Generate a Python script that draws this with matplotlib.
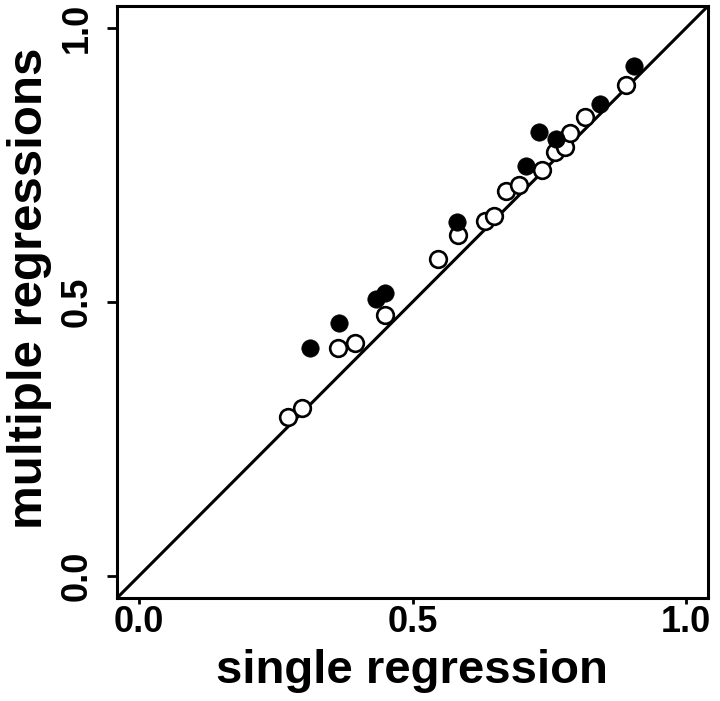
import matplotlib
matplotlib.use("Agg")
import matplotlib.pyplot as plt

# Filled points (single regression, multiple regressions)
filled_x = [0.313, 0.365, 0.433, 0.449, 0.582, 0.707, 0.731, 0.762, 0.842, 0.904]
filled_y = [0.416, 0.461, 0.506, 0.517, 0.646, 0.749, 0.810, 0.797, 0.861, 0.931]

# Open points
open_x = [0.273, 0.298, 0.364, 0.395, 0.449, 0.547, 0.584, 0.633, 0.649, 0.671,
          0.695, 0.736, 0.760, 0.778, 0.787, 0.816, 0.891]
open_y = [0.291, 0.307, 0.416, 0.425, 0.476, 0.579, 0.622, 0.647, 0.656, 0.702,
          0.714, 0.741, 0.774, 0.783, 0.808, 0.837, 0.895]

ticks = [0.0, 0.5, 1.0]
tick_labels = ["0.0", "0.5", "1.0"]
xlabel = "single regression"
ylabel = "multiple regressions"

plt.rcParams['font.family'] = ['Liberation Sans', 'DejaVu Sans']
plt.rcParams['font.weight'] = 'bold'

W, H = 720, 701
fig = plt.figure(figsize=(W / 100, H / 100), dpi=100)
ax = fig.add_axes([117 / W, 1 - 598 / H, (708 - 117) / W, (598 - 6) / H])

lim = (-0.04, 1.04)
ax.set_xlim(lim)
ax.set_ylim(lim)

ax.plot([lim[0], lim[1]], [lim[0], lim[1]], color='black', lw=2.2, zorder=1)

ax.plot(open_x, open_y, linestyle='none', marker='o', ms=12,
        mfc='white', mec='black', mew=1.9, zorder=2)
ax.plot(filled_x, filled_y, linestyle='none', marker='o', ms=12.5,
        mfc='black', mec='black', mew=0.5, zorder=3)

for s in ax.spines.values():
    s.set_linewidth(2.2)

ax.set_xticks(ticks)
ax.set_xticklabels(tick_labels, fontsize=26, fontweight='bold')
ax.set_yticks(ticks)
ax.set_yticklabels(tick_labels, fontsize=26, fontweight='bold',
                   rotation=90, va='center')
ax.tick_params(axis='x', direction='out', length=4, width=2, pad=1)
ax.tick_params(axis='y', direction='out', length=7, width=2, pad=9)

fig.text(412 / W, 1 - 683 / H, xlabel, fontsize=34, fontweight='bold',
         ha='center', va='baseline')
fig.text(42 / W, 1 - 288 / H, ylabel, fontsize=35.5, fontweight='bold',
         ha='center', va='baseline', rotation=90, rotation_mode='anchor')

fig.savefig("out.png", dpi=100)
